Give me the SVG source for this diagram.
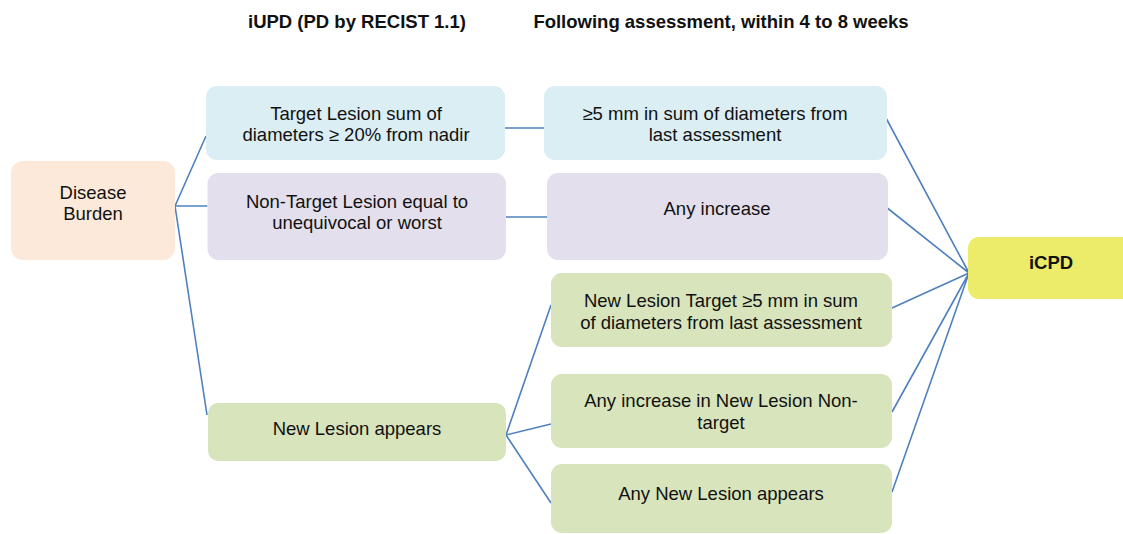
<svg xmlns="http://www.w3.org/2000/svg" width="1123" height="534" viewBox="0 0 1123 534">
<style>
.t{font-family:"Liberation Sans",Arial,sans-serif;font-size:18.5px;fill:#111;text-anchor:middle}
.b{font-weight:bold}
.c{stroke:#4F81BD;stroke-width:1.6;fill:none}
.peach{fill:#FDE9D9}.blue{fill:#DAEEF3}.lilac{fill:#E4DFEC}.green{fill:#D8E4BC}.yellow{fill:#ECEC6A}
</style>
<rect width="1123" height="534" fill="#fff"/>
<g id="titles">
<text class="t b" x="357" y="28">iUPD (PD by RECIST 1.1)</text>
<text class="t b" x="721" y="28">Following assessment, within 4 to 8 weeks</text>
</g>
<g id="connectors">
<path class="c" d="M175 206 L206 136 M175 206 L207.5 206 M175 206 L207 415"/>
<path class="c" d="M505 128 L544 128 M506 217 L547 217"/>
<path class="c" d="M506 435 L551 305 M506 435 L551 424 M506 435 L551 503"/>
<path class="c" d="M886 118 L969 273 M886 207 L969 273 M892 308 L969 273 M892 412 L969 273 M892 492 L969 273"/>
</g>
<g id="disease-burden">
<rect class="peach" x="11" y="161" width="164" height="99" rx="12"/>
<text class="t" x="93" y="199">Disease</text>
<text class="t" x="93" y="220">Burden</text>
</g>
<g id="target-lesion">
<rect class="blue" x="206" y="86" width="299" height="74" rx="11"/>
<text class="t" x="356" y="119.5">Target Lesion sum of</text>
<text class="t" x="356" y="141">diameters ≥ 20% from nadir</text>
</g>
<g id="non-target-lesion">
<rect class="lilac" x="207.5" y="173" width="298.5" height="87" rx="11"/>
<text class="t" x="357" y="207.5">Non-Target Lesion equal to</text>
<text class="t" x="357" y="229">unequivocal or worst</text>
</g>
<g id="new-lesion">
<rect class="green" x="208" y="403" width="298" height="58" rx="10"/>
<text class="t" x="357" y="435">New Lesion appears</text>
</g>
<g id="target-5mm">
<rect class="blue" x="544" y="86" width="343" height="74" rx="11"/>
<text class="t" x="715" y="119.5">≥5 mm in sum of diameters from</text>
<text class="t" x="715" y="141">last assessment</text>
</g>
<g id="nontarget-increase">
<rect class="lilac" x="547" y="173" width="341" height="87" rx="11"/>
<text class="t" x="717" y="215">Any increase</text>
</g>
<g id="new-target">
<rect class="green" x="551" y="273" width="341" height="74" rx="11"/>
<text class="t" x="721" y="307">New Lesion Target ≥5 mm in sum</text>
<text class="t" x="721" y="328.5">of diameters from last assessment</text>
</g>
<g id="new-nontarget">
<rect class="green" x="551" y="374" width="341" height="74" rx="11"/>
<text class="t" x="721" y="407">Any increase in New Lesion Non-</text>
<text class="t" x="721" y="428.5">target</text>
</g>
<g id="any-new">
<rect class="green" x="551" y="464" width="341" height="69" rx="11"/>
<text class="t" x="721" y="500">Any New Lesion appears</text>
</g>
<g id="icpd">
<rect class="yellow" x="968" y="237" width="166" height="62" rx="11"/>
<text class="t b" x="1051" y="269">iCPD</text>
</g>
</svg>
